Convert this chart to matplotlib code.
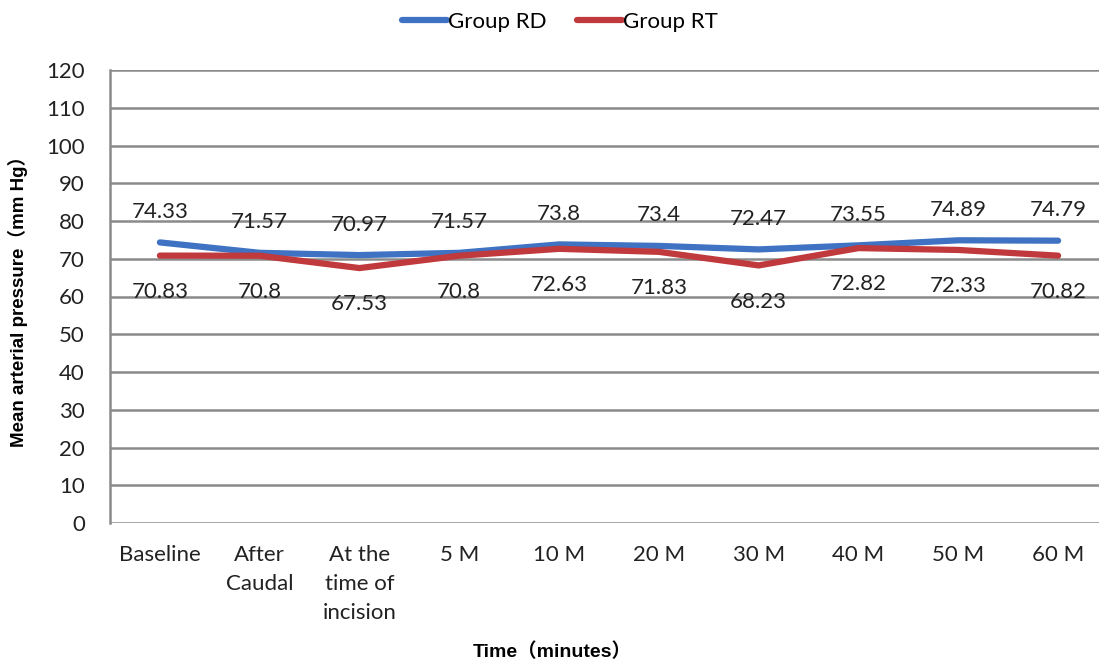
import matplotlib
matplotlib.use("Agg")
import matplotlib.pyplot as plt

categories = ["Baseline", "After\nCaudal", "At the\ntime of\nincision", "5 M", "10 M",
              "20 M", "30 M", "40 M", "50 M", "60 M"]
group_rd = [74.33, 71.57, 70.97, 71.57, 73.8, 73.4, 72.47, 73.55, 74.89, 74.79]
group_rt = [70.83, 70.8, 67.53, 70.8, 72.63, 71.83, 68.23, 72.82, 72.33, 70.82]
rd_labels = ["74.33", "71.57", "70.97", "71.57", "73.8", "73.4", "72.47", "73.55", "74.89", "74.79"]
rt_labels = ["70.83", "70.8", "67.53", "70.8", "72.63", "71.83", "68.23", "72.82", "72.33", "70.82"]
yticks = list(range(0, 121, 10))

blue = "#3f72c2"
red = "#c0393c"
grid_c = "#8a8a8a"
font = ["Lato", "DejaVu Sans"]

fig = plt.figure(figsize=(10.99, 6.64), dpi=100)
ax = fig.add_axes([110/1099, 1 - 523/664, 998/1099, (523-70)/664])
x = list(range(len(categories)))
ax.plot(x, group_rd, color=blue, lw=4.5, solid_capstyle="round", label="Group RD", zorder=3)
ax.plot(x, group_rt, color=red, lw=4.5, solid_capstyle="round", label="Group RT", zorder=3)

for xi, v, s in zip(x, group_rd, rd_labels):
    ax.annotate(s, (xi, v), xytext=(0, 22), textcoords="offset points", ha="center",
                va="center", fontsize=16, family=font, color="#222222")
for xi, v, s in zip(x, group_rt, rt_labels):
    ax.annotate(s, (xi, v), xytext=(0, -26), textcoords="offset points", ha="center",
                va="center", fontsize=16, family=font, color="#222222")

ax.set_xlim(-0.5, len(categories) - 0.5)
ax.set_ylim(0, 120)
ax.set_yticks(yticks)
ax.set_yticklabels([str(t) for t in yticks], family=font, fontsize=16, color="#222222")
ax.set_xticks(x)
ax.set_xticklabels(categories, family=font, fontsize=16, linespacing=1.55, va="top", color="#222222")
ax.tick_params(axis="both", length=0)
ax.tick_params(axis="y", pad=18)
ax.tick_params(axis="x", pad=16)
ax.yaxis.grid(True, color=grid_c, lw=1.8)
ax.set_axisbelow(True)
for sp in ["top", "right", "bottom"]:
    ax.spines[sp].set_visible(False)
ax.spines["left"].set_color(grid_c)
ax.spines["left"].set_linewidth(1.8)

ax.set_ylabel("Mean arterial pressure\uff08mm Hg\uff09", family=["Liberation Sans", "Noto Sans CJK SC"],
              fontweight="bold", fontsize=13.5)
ax.yaxis.set_label_coords(-82/998, 0.5)
fig.text(552/1099, 1 - 652/664, "Time\uff08minutes\uff09", family=["Liberation Sans", "Noto Sans CJK SC"],
         fontweight="bold", fontsize=14, ha="center", va="center")

leg = fig.legend(loc="center", bbox_to_anchor=(560/1099, 1 - 22/664), ncol=2, frameon=False,
                 prop={"family": font, "size": 16}, handlelength=2.0, handletextpad=0.05,
                 columnspacing=1.4)

fig.savefig("out.png", dpi=100)
